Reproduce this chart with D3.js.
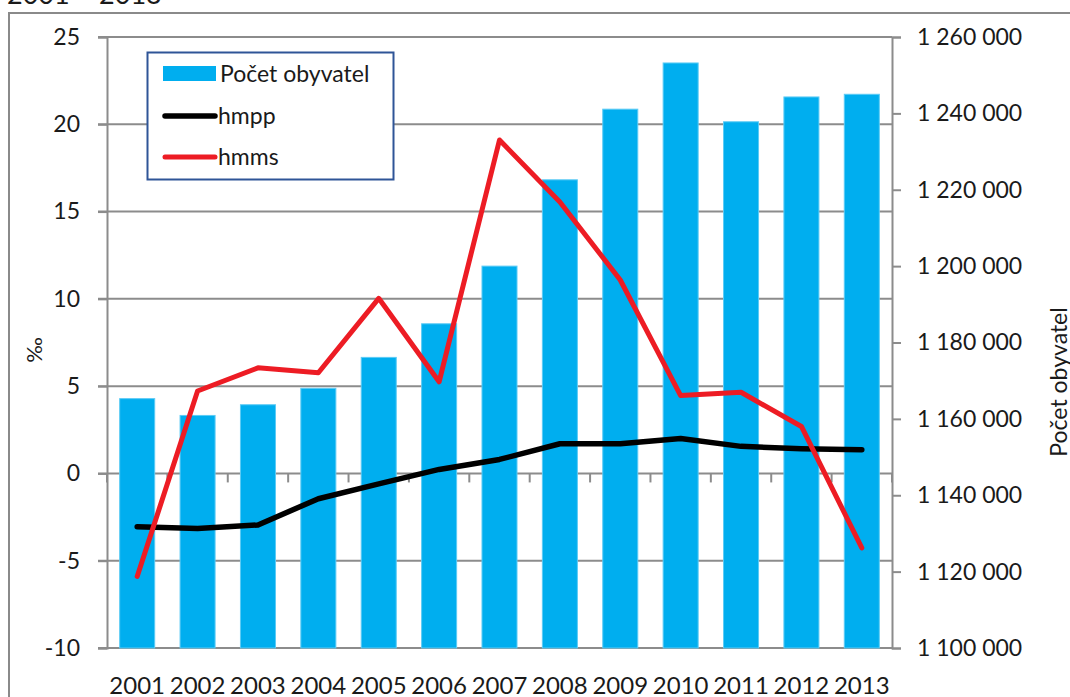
<!DOCTYPE html>
<html>
<head>
<meta charset="utf-8">
<script src="https://cdn.jsdelivr.net/npm/d3@7"></script>
<style>
  html, body { margin: 0; padding: 0; background: #fff; }
  svg { display: block; font-family: Lato, "Open Sans", sans-serif; }
</style>
</head>
<body>
<div id="chart"></div>
<script>
/* ── Data ─────────────────────────────────────────────── */
const years = ['2001', '2002', '2003', '2004', '2005', '2006', '2007',
               '2008', '2009', '2010', '2011', '2012', '2013'];
// Počet obyvatel (right axis)
const population = [1165300, 1160900, 1163700, 1168000, 1176100, 1184900, 1200000,
                    1222600, 1241100, 1253200, 1237800, 1244300, 1245000];
// hmpp (‰, left axis)
const hmpp = [-3.05, -3.15, -2.95, -1.45, -0.6, 0.23, 0.8,
              1.7, 1.7, 2.0, 1.55, 1.42, 1.36];
// hmms (‰, left axis)
const hmms = [-5.9, 4.72, 6.05, 5.77, 10.03, 5.25, 19.1,
              15.55, 11.08, 4.46, 4.65, 2.69, -4.27];
const leftTicks = [-10, -5, 0, 5, 10, 15, 20, 25];
const rightTicks = [1100000, 1120000, 1140000, 1160000, 1180000, 1200000, 1220000, 1240000, 1260000];

/* ── Setup ────────────────────────────────────────────── */
const W = 1070, H = 697;
const plot = { left: 107, right: 892, top: 37, bottom: 648 };
const C = {
  bar: '#00AEEF', barEdge: '#5CCBF5', red: '#ED1C24', black: '#000000',
  grid: '#8C8C8C', text: '#1a1a1a', legendBorder: '#2F5597', frame: '#8A8A8A'
};

const svg = d3.select('#chart').append('svg')
  .attr('width', W).attr('height', H);

// outer frame + clipped title
svg.append('rect')
  .attr('x', 9).attr('y', 13).attr('width', 1100).attr('height', 720)
  .attr('fill', 'none').attr('stroke', C.frame).attr('stroke-width', 2);
svg.append('text')
  .attr('x', 7).attr('y', 4)
  .attr('font-size', 27).attr('fill', C.text)
  .text('2001 – 2013');

const x = d3.scaleBand().domain(years)
  .range([plot.left, plot.right]).paddingInner(0.42).paddingOuter(0.21);
const yL = d3.scaleLinear().domain([-10, 25]).range([plot.bottom, plot.top]);
const yR = d3.scaleLinear().domain([1100000, 1260000]).range([plot.bottom, plot.top]);
const cx = d => x(d) + x.bandwidth() / 2;

/* ── Gridlines (behind bars) ──────────────────────────── */
svg.append('g').selectAll('line').data(leftTicks).join('line')
  .attr('x1', plot.left - 9).attr('x2', plot.right)
  .attr('y1', d => yL(d)).attr('y2', d => yL(d))
  .attr('stroke', C.grid).attr('stroke-width', 2);

// category ticks hanging below the zero line
const step = x.step();
svg.append('g').selectAll('line').data(d3.range(years.length + 1)).join('line')
  .attr('x1', i => plot.left + i * step).attr('x2', i => plot.left + i * step)
  .attr('y1', yL(0)).attr('y2', yL(0) + 9)
  .attr('stroke', C.grid).attr('stroke-width', 2);

/* ── Bars ─────────────────────────────────────────────── */
svg.append('g').selectAll('rect').data(years).join('rect')
  .attr('x', d => x(d)).attr('width', x.bandwidth())
  .attr('y', (d, i) => yR(population[i]))
  .attr('height', (d, i) => plot.bottom - yR(population[i]))
  .attr('fill', C.bar).attr('stroke', C.barEdge).attr('stroke-width', 1);

/* ── Axes ─────────────────────────────────────────────── */
const fmtPop = v => d3.format(',')(v).replace(/,/g, ' ');

const axL = svg.append('g').attr('transform', 'translate(' + plot.left + ',0)')
  .call(d3.axisLeft(yL).tickValues(leftTicks).tickSize(9).tickPadding(18)
    .tickFormat(d3.format('d')));
const axR = svg.append('g').attr('transform', 'translate(' + plot.right + ',0)')
  .call(d3.axisRight(yR).tickValues(rightTicks).tickSize(9).tickPadding(16)
    .tickFormat(fmtPop));
[axL, axR].forEach(a => {
  a.select('.domain').attr('stroke', C.grid).attr('stroke-width', 2);
  a.selectAll('.tick line').attr('stroke', C.grid).attr('stroke-width', 2);
  a.selectAll('.tick text').attr('font-size', 23).attr('fill', C.text)
    .attr('font-family', 'Lato, "Open Sans", sans-serif');
});
axL.selectAll('.tick text').text(d => d < 0 ? '-' + Math.abs(d) : d);

// x labels
svg.append('g').selectAll('text').data(years).join('text')
  .attr('x', d => cx(d)).attr('y', 694)
  .attr('text-anchor', 'middle').attr('font-size', 24).attr('fill', C.text)
  .text(d => d);

// axis titles
svg.append('text')
  .attr('transform', 'translate(42,350) rotate(-90)')
  .attr('text-anchor', 'middle').attr('font-size', 22).attr('fill', C.text)
  .text('‰');
svg.append('text')
  .attr('transform', 'translate(1067,382) rotate(-90)')
  .attr('text-anchor', 'middle').attr('font-size', 23).attr('fill', C.text)
  .text('Počet obyvatel');

/* ── Lines ────────────────────────────────────────────── */
function drawLine(vals, color, width) {
  const line = d3.line()
    .x((d, i) => cx(years[i]))
    .y(d => yL(d));
  svg.append('path').datum(vals)
    .attr('fill', 'none').attr('stroke', color).attr('stroke-width', width)
    .attr('stroke-linecap', 'round').attr('stroke-linejoin', 'round')
    .attr('d', line);
}
drawLine(hmpp, C.black, 5.5);
drawLine(hmms, C.red, 5);

/* ── Legend ───────────────────────────────────────────── */
const lg = svg.append('g').attr('transform', 'translate(147,52)');
lg.append('rect').attr('x', 0.5).attr('y', 0.5).attr('width', 246).attr('height', 127)
  .attr('fill', '#fff').attr('stroke', C.legendBorder).attr('stroke-width', 2);
lg.append('rect').attr('x', 16).attr('y', 14).attr('width', 53).attr('height', 15)
  .attr('fill', C.bar);
lg.append('line').attr('x1', 18).attr('x2', 68).attr('y1', 64).attr('y2', 64)
  .attr('stroke', C.black).attr('stroke-width', 5.5).attr('stroke-linecap', 'round');
lg.append('line').attr('x1', 18).attr('x2', 68).attr('y1', 105).attr('y2', 105)
  .attr('stroke', C.red).attr('stroke-width', 5).attr('stroke-linecap', 'round');
const legendText = ['Počet obyvatel', 'hmpp', 'hmms'];
lg.selectAll('text.lab').data(legendText).join('text')
  .attr('class', 'lab')
  .attr('x', (d, i) => i === 0 ? 73 : 71)
  .attr('y', (d, i) => [30, 72, 113][i])
  .attr('font-size', 23).attr('fill', C.text)
  .text(d => d);
</script>
</body>
</html>
